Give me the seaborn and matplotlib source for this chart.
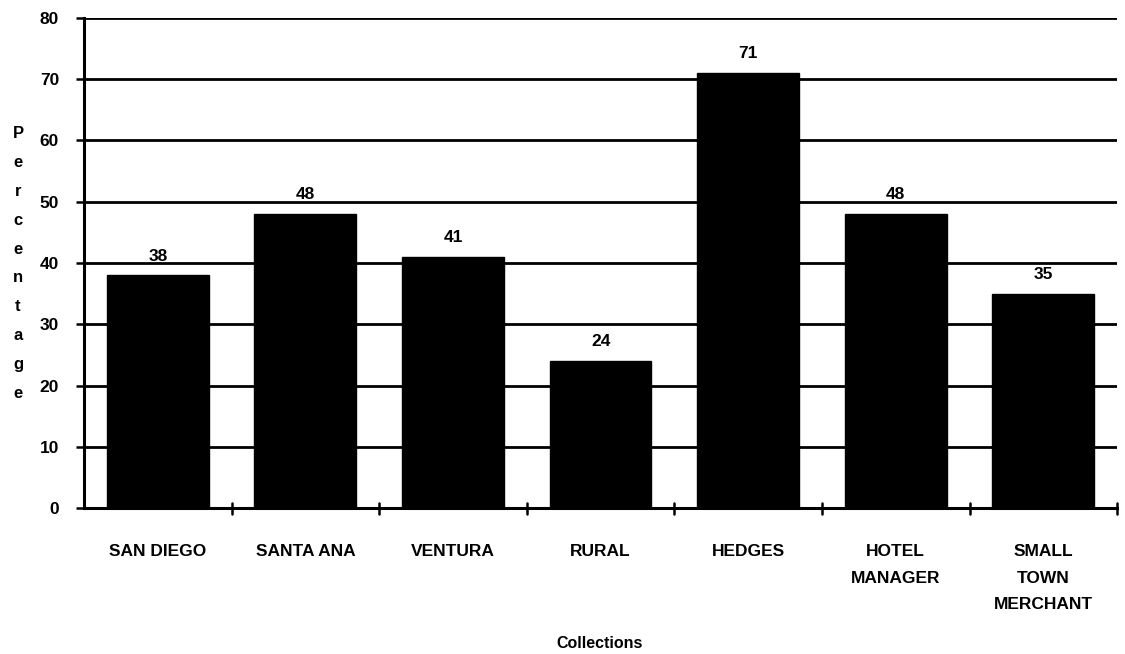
import matplotlib
matplotlib.use("Agg")
import matplotlib.pyplot as plt
import seaborn as sns
import pandas as pd

categories = ["SAN DIEGO", "SANTA ANA", "VENTURA", "RURAL", "HEDGES",
              "HOTEL\nMANAGER", "SMALL\nTOWN\nMERCHANT"]
percent = [38, 48, 41, 24, 71, 48, 35]
y_ticks = [0, 10, 20, 30, 40, 50, 60, 70, 80]

df = pd.DataFrame({"collection": categories, "percent": percent})

sns.set_theme(style="white")
plt.rcParams["font.family"] = ["Liberation Sans", "DejaVu Sans"]
plt.rcParams["font.weight"] = "bold"
plt.rcParams["text.color"] = "black"
plt.rcParams["xtick.color"] = "black"
plt.rcParams["ytick.color"] = "black"
plt.rcParams["axes.labelcolor"] = "black"

fig = plt.figure(figsize=(11.25, 6.54), dpi=100)
ax = fig.add_axes([0.0747, 0.2232, 0.9183, 0.7493])

sns.barplot(data=df, x="collection", y="percent", color="black",
            width=0.69, edgecolor="black", ax=ax, zorder=3)

ax.set_ylim(0, 80)
ax.set_xlim(-0.5, len(categories) - 0.5)
ax.set_yticks(y_ticks)
ax.set_yticklabels([str(t) for t in y_ticks], fontsize=12.5, fontweight="bold")
ax.yaxis.grid(True, color="black", linewidth=2, zorder=1)
ax.set_axisbelow(True)

# category labels centred, boundary ticks below the axis
ax.set_xticks(range(len(categories)))
ax.set_xticklabels(categories, fontsize=12.5, fontweight="bold", linespacing=1.95)
ax.tick_params(axis="x", length=0, pad=26)
for b in [i + 0.5 for i in range(len(categories))]:
    ax.plot([b, b], [-0.9, 0.9], color="black", lw=1.8, clip_on=False, zorder=4)
ax.tick_params(axis="y", direction="out", length=6, width=1.8, left=True, pad=12)

for s in ["top", "right"]:
    ax.spines[s].set_visible(False)
for s in ["left", "bottom"]:
    ax.spines[s].set_color("black")
    ax.spines[s].set_linewidth(2.2)

for i, v in enumerate(percent):
    ax.text(i, v + 1.9, str(v), ha="center", va="bottom", fontsize=12.5, fontweight="bold")

ax.set_xlabel("")
ax.set_ylabel("")
fig.text(0.5333, 0.0168, "Collections", ha="center", va="center",
         fontsize=11.5, fontweight="bold")
fig.text(0.016, 0.597, "\n".join("Percentage"), ha="center", va="center",
         fontsize=12, fontweight="bold", linespacing=2.15)

fig.savefig("out.png", dpi=100)
